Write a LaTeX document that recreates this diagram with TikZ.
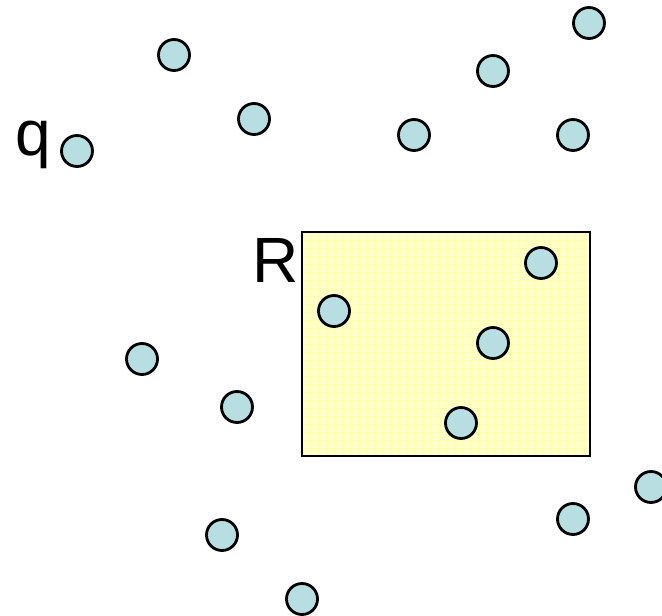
\documentclass[tikz,border=0pt]{standalone}
\usepackage{fontspec}
\setmainfont{Liberation Sans}
\usetikzlibrary{positioning}
\definecolor{dotblue}{HTML}{B8DEE2}
\definecolor{boxyellow}{HTML}{FFFFCC}
\definecolor{gridyellow}{HTML}{FFFFAE}

\begin{document}
\begin{tikzpicture}[
        x=1pt, y=-1pt,
        point/.style={
            circle, draw, line width=2.8pt, fill=dotblue,
            minimum size=31pt, inner sep=0pt
        },
        lbl/.style={
            font=\fontsize{64}{64}\selectfont,
            inner sep=0pt
        }
    ]
    \useasboundingbox (0,0) rectangle (662,616);

    % query region with its faint grid
    \fill[boxyellow] (302,232) rectangle (590,456);
    \foreach \gx in {310,318,...,586}
        \draw[gridyellow, line width=0.6pt] (\gx,232) -- (\gx,456);
    \foreach \gy in {240,248,...,452}
        \draw[gridyellow, line width=0.6pt] (302,\gy) -- (590,\gy);
    \draw[line width=1.8pt] (302,232) rectangle (590,456);
    \node[lbl, anchor=east] (R) at (299,260) {R};

    % data points
    \foreach \px/\py [count=\i] in {174/55, 589/23, 493/71, 254/119, 414/135,
            573/135, 77/151, 541/263, 334/311, 493/343, 142/359, 237/407,
            461/423, 651/487, 573/519, 222/535, 302/599}
        \node[point] (p\i) at (\px,\py) {};

    \node[lbl, left=9pt of p7, yshift=6pt] (q) {q};
\end{tikzpicture}
\end{document}
